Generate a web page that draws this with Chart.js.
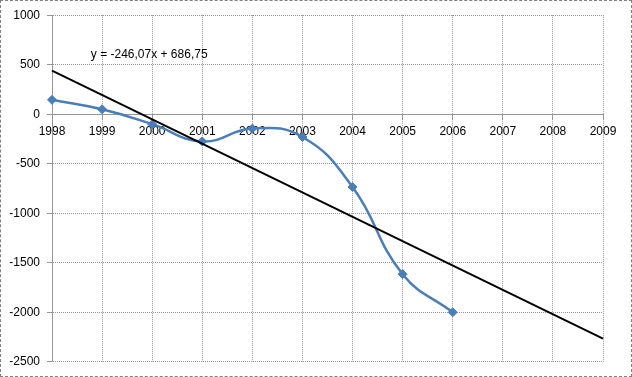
<!DOCTYPE html>
<html>
<head>
<meta charset="utf-8">
<script src="https://cdn.jsdelivr.net/npm/chart.js@4/dist/chart.umd.min.js"></script>
<style>
  html, body { margin: 0; padding: 0; background: #fff; }
  #wrap { width: 632px; height: 377px; box-sizing: border-box; border: 1px dashed #808080; }
  canvas { display: block; }
</style>
</head>
<body>
<div id="wrap"><canvas id="myChart" width="630" height="375"></canvas></div>
<script>
var years = ['1998', '1999', '2000', '2001', '2002', '2003', '2004', '2005', '2006', '2007', '2008', '2009'];
var values = [145, 50, -100, -275, -145, -230, -735, -1615, -2000];
var trendLabel = 'y = -246,07x + 686,75';
var trendPoints = [{x: '1998', y: 440.7}, {x: '2009', y: -2266.1}];
var yTicks = {min: -2500, max: 1000, step: 500};

var gridColor = '#969696';
var font = {family: 'Liberation Sans, Arial, sans-serif', size: 12};

// equation of the trend line, placed near the start of the line
var equationText = {
  id: 'equationText',
  afterDatasetsDraw: function(chart) {
    var c = chart.ctx;
    var px = chart.scales.x.getPixelForValue(2) - 3;
    var py = chart.scales.y.getPixelForValue(600);
    c.save();
    c.font = '12px Liberation Sans, Arial, sans-serif';
    c.fillStyle = '#000';
    c.textAlign = 'center';
    c.textBaseline = 'middle';
    c.fillText(trendLabel, px, py);
    c.restore();
  }
};

var ctx = document.getElementById('myChart').getContext('2d');
var myChart = new Chart(ctx, {
  type: 'line',
  data: {
    labels: years,
    datasets: [{
        data: values,
        borderColor: '#4A7EBB',
        backgroundColor: '#4A7EBB',
        borderWidth: 2.5,
        tension: 0.45,
        pointStyle: 'rectRot',
        pointRadius: 4.5,
        pointBorderWidth: 1,
        order: 2
      }, {
        data: trendPoints,
        borderColor: '#000',
        borderWidth: 2,
        pointRadius: 0,
        tension: 0,
        order: 1
      }
    ]
  },
  options: {
    responsive: false,
    animation: false,
    layout: {padding: {left: 0, right: 28, top: 14, bottom: 14}},
    plugins: {legend: {display: false}, tooltip: {enabled: false}},
    scales: {
      x: {
        position: {y: 0},
        offset: false,
        grid: {color: gridColor, tickLength: 5},
        border: {display: true, color: gridColor, dash: [1, 1]},
        ticks: {color: '#000', font: font, padding: 5, maxRotation: 0, autoSkip: false}
      },
      y: {
        min: yTicks.min,
        max: yTicks.max,
        afterFit: function(scale) { scale.width = 51; },
        grid: {color: gridColor, tickLength: 5},
        border: {display: true, color: gridColor, dash: [1, 1]},
        ticks: {
          stepSize: yTicks.step, color: '#000', font: font, padding: 7,
          callback: function(v) { return String(v); }
        }
      }
    }
  },
  plugins: [equationText]
});
</script>
</body>
</html>
